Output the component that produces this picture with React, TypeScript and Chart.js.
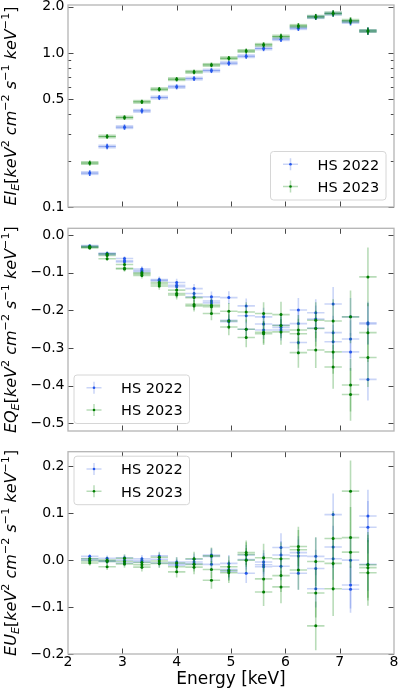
import React, { useEffect, useRef } from 'react';
import { Chart, registerables } from 'chart.js';

Chart.register(...registerables);

const FONT = "'DejaVu Sans', 'Liberation Sans', sans-serif";
Chart.defaults.font.family = FONT;

// ---------------- data ----------------
const energy = [2.40, 2.72, 3.04, 3.36, 3.68, 4.00, 4.32, 4.64, 4.96, 5.28, 5.60, 5.92, 6.24, 6.56, 6.88, 7.20, 7.52];
const energyHalfWidth = 0.16;
const xTicks = [2, 3, 4, 5, 6, 7, 8];

const seriesNames = ['HS 2022', 'HS 2023'];

// Panel 1: EI_E
const iBlue = [0.166, 0.247, 0.330, 0.421, 0.514, 0.603, 0.682, 0.769, 0.859, 0.953, 1.07, 1.23, 1.45, 1.71, 1.80, 1.59, 1.39];
const iGreen = [0.193, 0.287, 0.381, 0.482, 0.582, 0.676, 0.754, 0.837, 0.925, 1.03, 1.13, 1.28, 1.50, 1.72, 1.81, 1.62, 1.39];
const iBlueErr = [0.007, 0.010, 0.013, 0.016, 0.019, 0.022, 0.025, 0.028, 0.032, 0.036, 0.042, 0.050, 0.060, 0.072, 0.080, 0.080, 0.075];
const iGreenErr = [0.007, 0.010, 0.013, 0.016, 0.019, 0.022, 0.025, 0.028, 0.032, 0.037, 0.043, 0.052, 0.062, 0.074, 0.082, 0.082, 0.077];
const iTicks = [0.1, 0.2, 0.3, 0.4, 0.5, 0.6, 0.7, 0.8, 0.9, 1.0, 2.0];
const iTickLabels = ['0.1', '', '', '', '0.5', '', '', '', '', '1.0', '2.0'];

// Panel 2: EQ_E (three sub-measurements per bin)
const qBlueA = [-0.028, -0.048, -0.062, -0.090, -0.118, -0.126, -0.142, -0.164, -0.166, -0.188, -0.217, -0.239, -0.199, -0.206, -0.183, -0.217, -0.233];
const qBlueB = [-0.030, -0.050, -0.068, -0.094, -0.120, -0.133, -0.155, -0.175, -0.226, -0.214, -0.236, -0.245, -0.235, -0.223, -0.259, -0.276, -0.236];
const qBlueC = [-0.032, -0.052, -0.071, -0.097, -0.122, -0.137, -0.164, -0.180, -0.230, -0.250, -0.252, -0.252, -0.285, -0.247, -0.283, -0.310, -0.383];
const qGreenA = [-0.030, -0.050, -0.078, -0.100, -0.126, -0.146, -0.166, -0.186, -0.202, -0.204, -0.208, -0.211, -0.252, -0.226, -0.228, -0.217, -0.111];
const qGreenB = [-0.032, -0.054, -0.088, -0.103, -0.130, -0.155, -0.184, -0.190, -0.228, -0.250, -0.258, -0.240, -0.262, -0.248, -0.310, -0.398, -0.259];
const qGreenC = [-0.034, -0.063, -0.090, -0.107, -0.135, -0.159, -0.188, -0.208, -0.244, -0.272, -0.262, -0.257, -0.312, -0.305, -0.350, -0.423, -0.325];
const qBlueErr = [0.004, 0.005, 0.006, 0.007, 0.008, 0.010, 0.012, 0.014, 0.017, 0.020, 0.024, 0.028, 0.032, 0.036, 0.045, 0.050, 0.056];
const qGreenErr = [0.005, 0.006, 0.007, 0.008, 0.010, 0.012, 0.015, 0.018, 0.022, 0.026, 0.030, 0.034, 0.040, 0.048, 0.058, 0.070, 0.078];
const qTicks = [0.0, -0.1, -0.2, -0.3, -0.4, -0.5];
const qTickLabels = ['0.0', '\u22120.1', '\u22120.2', '\u22120.3', '\u22120.4', '\u22120.5'];

// Panel 3: EU_E
const uBlueA = [0.008, 0.004, 0.005, 0.003, 0.009, -0.004, 0.002, 0.011, -0.007, 0.011, -0.004, 0.027, 0.016, 0.008, 0.097, 0.000, 0.094];
const uBlueB = [0.003, -0.001, 0.000, -0.001, 0.002, -0.008, -0.004, 0.008, -0.020, 0.001, -0.010, 0.011, 0.009, -0.018, 0.028, -0.053, 0.070];
const uBlueC = [0.000, -0.003, -0.006, -0.004, -0.006, -0.011, -0.008, -0.009, -0.024, -0.028, -0.014, -0.013, -0.028, -0.061, 0.003, -0.062, -0.009];
const uGreenA = [0.003, 0.000, 0.004, -0.005, 0.006, -0.006, 0.003, 0.009, -0.014, 0.016, 0.005, 0.003, 0.029, -0.003, 0.046, 0.147, -0.010];
const uGreenB = [-0.002, -0.003, -0.003, -0.010, -0.002, -0.014, -0.009, -0.020, -0.022, 0.012, -0.040, -0.033, 0.022, -0.070, -0.007, 0.048, -0.016];
const uGreenC = [-0.006, -0.014, -0.008, -0.015, -0.007, -0.025, -0.015, -0.043, -0.027, 0.000, -0.068, -0.057, -0.021, -0.140, -0.061, 0.017, -0.027];
const uBlueErr = [0.005, 0.006, 0.007, 0.008, 0.009, 0.010, 0.012, 0.015, 0.018, 0.021, 0.025, 0.030, 0.035, 0.040, 0.045, 0.050, 0.056];
const uGreenErr = [0.006, 0.007, 0.008, 0.009, 0.010, 0.012, 0.015, 0.018, 0.022, 0.026, 0.030, 0.035, 0.042, 0.052, 0.058, 0.065, 0.070];
const uTicks = [-0.2, -0.1, 0.0, 0.1, 0.2];
const uTickLabels = ['\u22120.2', '\u22120.1', '0.0', '0.1', '0.2'];

// ---------------- styles ----------------
const BLUE_PT = 'rgb(35,85,235)';
const GREEN_PT = 'rgb(0,125,0)';
const BLUE_BAR = 'rgba(65,105,225,0.28)';
const GREEN_BAR = 'rgba(0,128,0,0.28)';
const BLUE_CORE = 'rgba(65,105,225,0.45)';
const GREEN_CORE = 'rgba(0,128,0,0.45)';
const BLUE_V = 'rgba(35,85,235,0.9)';
const GREEN_V = 'rgba(0,120,0,0.9)';

type Seg = { t: string; f: 'i' | 'r'; p: 'n' | 'sup' | 'sub' };
const unitSegs: Seg[] = [
  { t: '[', f: 'r', p: 'n' },
  { t: 'keV', f: 'i', p: 'n' },
  { t: '2', f: 'r', p: 'sup' },
  { t: ' cm', f: 'i', p: 'n' },
  { t: '\u22122', f: 'r', p: 'sup' },
  { t: ' s', f: 'i', p: 'n' },
  { t: '\u22121', f: 'r', p: 'sup' },
  { t: ' keV', f: 'i', p: 'n' },
  { t: '\u22121', f: 'r', p: 'sup' },
  { t: ']', f: 'r', p: 'n' },
];
const titleSegs = (q: string): Seg[] => [
  { t: 'E' + q, f: 'i', p: 'n' },
  { t: 'E', f: 'i', p: 'sub' },
  ...unitSegs,
];

// ---------------- plugins ----------------
const errorBarPlugin = {
  id: 'errorBars',
  beforeDatasetDraw(chart: any, args: any) {
    const ds = chart.data.datasets[args.index];
    const st = ds.barStyle;
    if (!st) return;
    const { ctx, chartArea } = chart;
    const xs = chart.scales.x;
    const ys = chart.scales.y;
    ctx.save();
    ctx.beginPath();
    ctx.rect(chartArea.left, chartArea.top, chartArea.width, chartArea.height);
    ctx.clip();
    ctx.lineCap = 'butt';
    ds.data.forEach((p: any, i: number) => {
      const e = ds.yErr[i];
      const x0 = xs.getPixelForValue(p.x - ds.xHalf);
      const x1 = xs.getPixelForValue(p.x + ds.xHalf);
      const xc = xs.getPixelForValue(p.x);
      const yc = ys.getPixelForValue(p.y);
      const y0 = ys.getPixelForValue(p.y - e);
      const y1 = ys.getPixelForValue(p.y + e);
      ctx.strokeStyle = st.hColor;
      ctx.lineWidth = st.hWidth;
      ctx.beginPath();
      ctx.moveTo(x0, yc);
      ctx.lineTo(x1, yc);
      ctx.stroke();
      if (st.coreColor) {
        ctx.strokeStyle = st.coreColor;
        ctx.lineWidth = 1;
        ctx.beginPath();
        ctx.moveTo(x0, yc);
        ctx.lineTo(x1, yc);
        ctx.stroke();
      }
      ctx.strokeStyle = st.vColor;
      ctx.lineWidth = st.vWidth;
      ctx.beginPath();
      ctx.moveTo(xc, y0);
      ctx.lineTo(xc, y1);
      ctx.stroke();
    });
    ctx.restore();
  },
};

function framePlugin() {
  return {
    id: 'frameTicks',
    afterDatasetsDraw(chart: any) {
      const { ctx, chartArea } = chart;
      const { left, right, top, bottom } = chartArea;
      const xs = chart.scales.x;
      const ys = chart.scales.y;
      ctx.save();
      ctx.strokeStyle = '#4a4a4a';
      ctx.lineWidth = 1;
      xs.ticks.forEach((t: any) => {
        const x = Math.round(xs.getPixelForValue(t.value)) + 0.5;
        if (x < left + 1 || x > right - 1) return;
        ctx.beginPath();
        ctx.moveTo(x, bottom);
        ctx.lineTo(x, bottom - 5.5);
        ctx.moveTo(x, top);
        ctx.lineTo(x, top + 5.5);
        ctx.stroke();
      });
      ys.ticks.forEach((t: any) => {
        const y = Math.round(ys.getPixelForValue(t.value)) + 0.5;
        const len = t.label === '' ? 3.2 : 5.5;
        ctx.beginPath();
        ctx.moveTo(left, y);
        ctx.lineTo(left + len, y);
        ctx.moveTo(right, y);
        ctx.lineTo(right - len, y);
        ctx.stroke();
      });
      ctx.strokeStyle = '#b4b4b4';
      ctx.lineWidth = 1.3;
      ctx.strokeRect(left, top, right - left, bottom - top);
      ctx.restore();
    },
  };
}

function titlePlugin(segs: Seg[]) {
  return {
    id: 'yTitle',
    afterDraw(chart: any) {
      const { ctx, chartArea } = chart;
      const size = 16;
      const fontOf = (s: Seg) => {
        const sz = s.p === 'n' ? size : size * 0.7;
        return `${s.f === 'i' ? 'italic ' : ''}${sz}px ${FONT}`;
      };
      const widths: number[] = [];
      let total = 0;
      segs.forEach((s) => {
        ctx.font = fontOf(s);
        const w = ctx.measureText(s.t).width;
        widths.push(w);
        total += w;
      });
      ctx.save();
      const cy = (chartArea.top + chartArea.bottom) / 2;
      ctx.translate(15.5, cy);
      ctx.rotate(-Math.PI / 2);
      ctx.fillStyle = '#000';
      ctx.textAlign = 'left';
      ctx.textBaseline = 'alphabetic';
      let u = -total / 2;
      segs.forEach((s, i) => {
        ctx.font = fontOf(s);
        const dy = s.p === 'sup' ? -size * 0.42 : s.p === 'sub' ? size * 0.22 : 0;
        ctx.fillText(s.t, u, dy);
        u += widths[i];
      });
      ctx.restore();
    },
  };
}

type LegendSpec = { corner: 'br' | 'bl' | 'tl'; dx: number; dy: number };
function legendPlugin(spec: LegendSpec) {
  return {
    id: 'boxLegend',
    afterDraw(chart: any) {
      const { ctx, chartArea } = chart;
      const w = 115.5;
      const h = 48.5;
      let bx = 0;
      let by = 0;
      if (spec.corner === 'br') {
        bx = chartArea.right - spec.dx - w;
        by = chartArea.bottom - spec.dy - h;
      } else if (spec.corner === 'bl') {
        bx = chartArea.left + spec.dx;
        by = chartArea.bottom - spec.dy - h;
      } else {
        bx = chartArea.left + spec.dx;
        by = chartArea.top + spec.dy;
      }
      ctx.save();
      ctx.fillStyle = 'rgba(255,255,255,0.85)';
      ctx.strokeStyle = '#d6d6d6';
      ctx.lineWidth = 1;
      ctx.beginPath();
      if (ctx.roundRect) ctx.roundRect(bx, by, w, h, 3);
      else ctx.rect(bx, by, w, h);
      ctx.fill();
      ctx.stroke();
      const items = [
        { label: seriesNames[0], bar: BLUE_BAR, pt: BLUE_PT },
        { label: seriesNames[1], bar: GREEN_BAR, pt: GREEN_PT },
      ];
      items.forEach((it, k) => {
        const cy = by + 12.8 + k * 22.2;
        const cx = bx + 20;
        ctx.strokeStyle = it.bar;
        ctx.lineWidth = 1.5;
        ctx.beginPath();
        ctx.moveTo(cx - 7.5, cy);
        ctx.lineTo(cx + 7.5, cy);
        ctx.moveTo(cx, cy - 6);
        ctx.lineTo(cx, cy + 6);
        ctx.stroke();
        ctx.fillStyle = it.pt;
        ctx.beginPath();
        ctx.arc(cx, cy, 1.3, 0, Math.PI * 2);
        ctx.fill();
        ctx.fillStyle = '#000';
        ctx.font = `14.5px ${FONT}`;
        ctx.textAlign = 'left';
        ctx.textBaseline = 'alphabetic';
        ctx.fillText(it.label, bx + 47, cy + 5.3);
      });
      ctx.restore();
    },
  };
}

// ---------------- builders ----------------
function series(subs: number[][], errs: number[]) {
  const pts: { x: number; y: number }[] = [];
  const yErr: number[] = [];
  energy.forEach((e, i) => {
    subs.forEach((arr) => {
      pts.push({ x: e, y: arr[i] });
      yErr.push(errs[i]);
    });
  });
  return { pts, yErr };
}

function dataset(subs: number[][], errs: number[], color: string, barStyle: any, order: number) {
  const s = series(subs, errs);
  return {
    data: s.pts,
    yErr: s.yErr,
    xHalf: energyHalfWidth,
    barStyle,
    order,
    showLine: false,
    pointRadius: 1.5,
    pointBorderWidth: 0,
    pointBackgroundColor: color,
    pointBorderColor: color,
    pointHoverRadius: 0,
  };
}

function xScale(show: boolean) {
  return {
    type: 'linear',
    min: 2,
    max: 8,
    display: show,
    afterBuildTicks: (s: any) => {
      s.ticks = xTicks.map((v) => ({ value: v }));
    },
    ticks: {
      autoSkip: false,
      maxRotation: 0,
      padding: 0,
      color: '#000',
      font: { size: 14, family: FONT },
      callback: (v: any) => String(v),
    },
    grid: { display: false, drawTicks: false },
    border: { display: false },
    title: {
      display: show,
      text: 'Energy [keV]',
      color: '#000',
      font: { size: 17, family: FONT },
      padding: { top: 0, bottom: 2 },
    },
    afterFit: (s: any) => {
      s.height = show ? 38 : 0;
      s.paddingLeft = 0;
      s.paddingRight = 0;
    },
  };
}

function yScale(type: string, min: number, max: number, ticks: number[], labels: string[]) {
  return {
    type,
    min,
    max,
    afterBuildTicks: (s: any) => {
      s.ticks = ticks.map((v) => ({ value: v }));
    },
    ticks: {
      autoSkip: false,
      padding: 3.5,
      color: '#000',
      font: { size: 14, family: FONT },
      callback: (_v: any, idx: number) => labels[idx],
    },
    grid: { display: false, drawTicks: false },
    border: { display: false },
    afterFit: (s: any) => {
      s.width = 68;
      s.paddingTop = 0;
      s.paddingBottom = 0;
    },
  };
}

function makeConfig(opts: {
  datasets: any[];
  y: any;
  showX: boolean;
  padTop: number;
  padBottom: number;
  segs: Seg[];
  legend: LegendSpec;
}) {
  return {
    type: 'scatter',
    data: { datasets: opts.datasets },
    options: {
      responsive: false,
      animation: false,
      events: [],
      layout: { padding: { left: 0, right: 6, top: opts.padTop, bottom: opts.padBottom } },
      plugins: { legend: { display: false }, tooltip: { enabled: false } },
      scales: { x: xScale(opts.showX), y: opts.y },
    },
    plugins: [errorBarPlugin, framePlugin(), titlePlugin(opts.segs), legendPlugin(opts.legend)],
  } as any;
}

const styleI = (bar: string, core: string, v: string) => ({ hColor: bar, hWidth: 4, coreColor: core, vColor: v, vWidth: 1.6 });
const stylePol = (bar: string) => ({ hColor: bar, hWidth: 1.6, coreColor: null, vColor: bar, vWidth: 1.6 });

export default function App() {
  const r1 = useRef<HTMLCanvasElement>(null);
  const r2 = useRef<HTMLCanvasElement>(null);
  const r3 = useRef<HTMLCanvasElement>(null);

  useEffect(() => {
    const c1 = new Chart(
      r1.current!,
      makeConfig({
        datasets: [
          dataset([iBlue], iBlueErr, BLUE_PT, styleI(BLUE_BAR, BLUE_CORE, BLUE_V), 1),
          dataset([iGreen], iGreenErr, GREEN_PT, styleI(GREEN_BAR, GREEN_CORE, GREEN_V), 0),
        ],
        y: yScale('logarithmic', 0.1, 2.05, iTicks, iTickLabels),
        showX: false,
        padTop: 5,
        padBottom: 11,
        segs: titleSegs('I'),
        legend: { corner: 'br', dx: 8, dy: 7 },
      })
    );
    const c2 = new Chart(
      r2.current!,
      makeConfig({
        datasets: [
          dataset([qBlueA, qBlueB, qBlueC], qBlueErr, BLUE_PT, stylePol(BLUE_BAR), 1),
          dataset([qGreenA, qGreenB, qGreenC], qGreenErr, GREEN_PT, stylePol(GREEN_BAR), 0),
        ],
        y: yScale('linear', -0.52, 0.018, qTicks, qTickLabels),
        showX: false,
        padTop: 10.3,
        padBottom: 11,
        segs: titleSegs('Q'),
        legend: { corner: 'bl', dx: 6, dy: 7.5 },
      })
    );
    const c3 = new Chart(
      r3.current!,
      makeConfig({
        datasets: [
          dataset([uBlueA, uBlueB, uBlueC], uBlueErr, BLUE_PT, stylePol(BLUE_BAR), 1),
          dataset([uGreenA, uGreenB, uGreenC], uGreenErr, GREEN_PT, stylePol(GREEN_BAR), 0),
        ],
        y: yScale('linear', -0.2, 0.231, uTicks, uTickLabels),
        showX: true,
        padTop: 9.7,
        padBottom: 0,
        segs: titleSegs('U'),
        legend: { corner: 'tl', dx: 6, dy: 4.5 },
      })
    );
    return () => {
      c1.destroy();
      c2.destroy();
      c3.destroy();
    };
  }, []);

  const cs = (top: number, h: number): React.CSSProperties => ({ position: 'absolute', left: 0, top, width: 400, height: h });
  return (
    <div style={{ position: 'fixed', left: 0, top: 0, width: 400, height: 692, background: '#fff', overflow: 'hidden' }}>
      <canvas ref={r1} width={400} height={218} style={cs(0, 218)} />
      <canvas ref={r2} width={400} height={224} style={cs(218, 224)} />
      <canvas ref={r3} width={400} height={250} style={cs(442, 250)} />
    </div>
  );
}
